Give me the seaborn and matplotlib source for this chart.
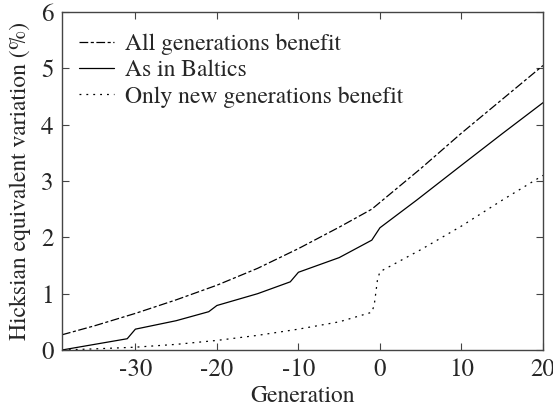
import matplotlib
matplotlib.use("Agg")
import matplotlib.pyplot as plt
import seaborn as sns
import pandas as pd

# Data
all_gen_x = [-39, -35, -30, -25, -20, -15, -10, -5, -1, 0, 5, 10, 15, 20]
all_gen_y = [0.27, 0.43, 0.65, 0.89, 1.15, 1.45, 1.80, 2.18, 2.50, 2.62, 3.22, 3.85, 4.45, 5.05]

baltic_x = [-39, -35, -31, -30, -25, -21, -20, -15, -11, -10, -5, -1, 0, 4.5, 10, 15, 20]
baltic_y = [0.0, 0.10, 0.20, 0.37, 0.52, 0.68, 0.79, 1.00, 1.21, 1.38, 1.64, 1.95, 2.17, 2.66, 3.28, 3.84, 4.39]

new_gen_x = [-39, -35, -30, -25, -20, -15, -10, -5, -1, -0.7, -0.3, 0, 5, 10, 15, 20]
new_gen_y = [0.0, 0.02, 0.05, 0.10, 0.17, 0.26, 0.37, 0.50, 0.67, 0.80, 1.25, 1.39, 1.78, 2.20, 2.66, 3.10]

labels = ["All generations benefit", "As in Baltics", "Only new generations benefit"]
x_ticks = [-30, -20, -10, 0, 10, 20]
y_ticks = [0, 1, 2, 3, 4, 5, 6]

sns.set_style("ticks")
plt.rcParams['font.family'] = ['TeX Gyre Termes', 'FreeSerif', 'STIXGeneral', 'DejaVu Serif']

fig = plt.figure(figsize=(5.53, 4.08), dpi=100)
ax = fig.add_axes([62/553, 1 - 350/408, (543 - 62)/553, (350 - 12)/408])

series = [
    (all_gen_x, all_gen_y, labels[0], (0, (7, 2, 2.5, 2))),
    (baltic_x, baltic_y, labels[1], '-'),
    (new_gen_x, new_gen_y, labels[2], (0, (1.5, 4))),
]
for xs, ys, lab, ls in series:
    df = pd.DataFrame({"Generation": xs, "value": ys})
    sns.lineplot(data=df, x="Generation", y="value", ax=ax, color="black",
                 linewidth=0.9, linestyle=ls, label=lab, sort=False)

ax.set_xlim(-39, 20)
ax.set_ylim(0, 6)
ax.set_xticks(x_ticks)
ax.set_yticks(y_ticks)
ax.set_xticklabels([str(t) for t in x_ticks])
ax.tick_params(direction='in', length=5, top=True, right=True, labelsize=18,
               width=0.8, color='#444444', pad=6)
for s in ax.spines.values():
    s.set_linewidth(1.0)
    s.set_color('#444444')
ax.set_xlabel("Generation", fontsize=17, labelpad=2)
ax.set_ylabel("Hicksian equivalent variation (%)", fontsize=17, labelpad=7)

leg = ax.legend(loc='upper left', frameon=False, fontsize=17, handlelength=1.5,
                borderaxespad=0.3, labelspacing=0.2, handletextpad=0.45,
                bbox_to_anchor=(0.0, 0.985))

fig.savefig("out.png", dpi=100)
